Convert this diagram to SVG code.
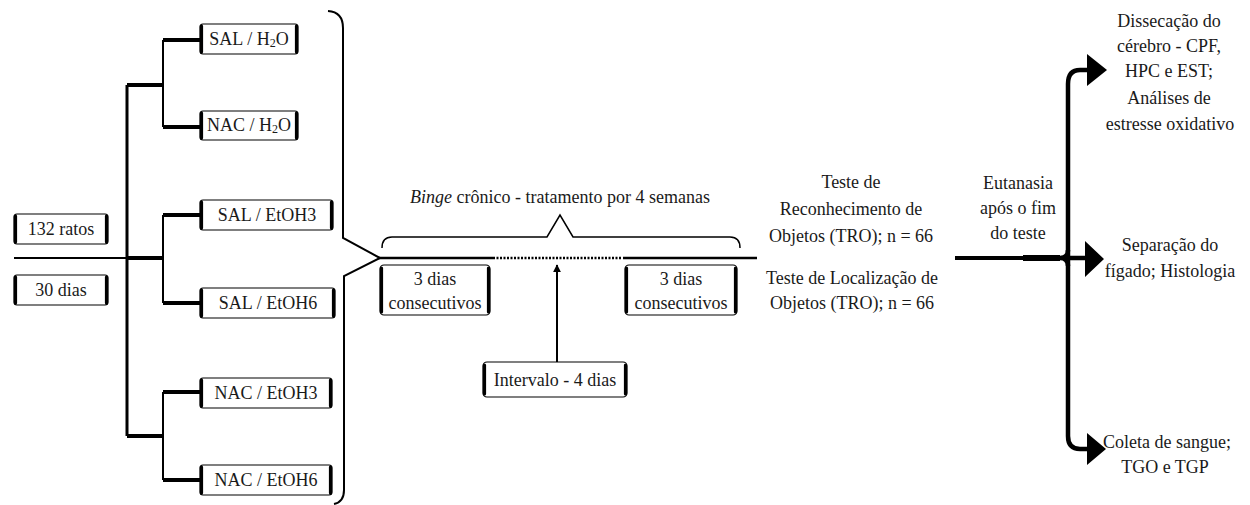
<svg xmlns="http://www.w3.org/2000/svg" width="1250" height="505" viewBox="0 0 1250 505">
<style>
text{font-family:"Liberation Serif","Times New Roman",serif;font-size:18px;fill:#1a1a1a;text-anchor:middle}
.bx{fill:#fff;stroke:#000;stroke-width:1.2}
.sd{stroke:#000;stroke-width:3.2;fill:none;stroke-linecap:round}
.ln{stroke:#000;fill:none}
.sub{font-size:12px}
</style>
<defs>
<marker id="ah" viewBox="0 0 10 10" refX="9" refY="5" markerWidth="4" markerHeight="4" orient="auto"><path d="M0,0 L10,5 L0,10 Z" fill="#000"/></marker>
</defs>
<g id="connectors">
<path class="ln" stroke-width="2" d="M14,258 H127"/>
<path class="ln" stroke-width="3" d="M127,85 V436"/>
<path class="ln" stroke-width="4" d="M127,85 H163 M127,258 H163 M127,436 H163"/>
<path class="ln" stroke-width="2" d="M163,40 V127 M163,215 V303 M163,392 V480"/>
<path class="ln" stroke-width="4" d="M163,40 H200 M163,127 H200 M163,215 H200 M163,303 H200 M163,392 H200 M163,480 H200"/>
<path class="ln" stroke-width="2" d="M328,11 Q343,12 343,28 V238 L380,258 L344,276 V490 Q344,502 334,504"/>
<path class="ln" stroke-width="2.5" d="M378,258 H493 M623,258 H757"/>
<path class="ln" stroke-width="2.5" stroke-dasharray="2,1.5" d="M493,258 H621"/>
<path class="ln" stroke-width="1.5" d="M382,248 Q382,237 392,237 H547 L560,215 L573,237 H730 Q740,237 740,248"/>
<path class="ln" stroke-width="2" marker-end="url(#ah)" d="M557,362 V265"/>
<path class="ln" stroke-width="4" d="M955,258 H1068"/>
<path class="ln" stroke-width="6" d="M1023,258 H1060"/>
<path class="ln" stroke-width="4.5" d="M1090,70 H1080 Q1068,70 1068,84 V436 Q1068,449 1080,449 H1090"/>
<path class="ln" stroke-width="4.5" d="M1060,258 Q1068,258 1068,250 M1060,258 Q1068,258 1068,266 M1068,258 H1088"/>
<path d="M1087,54 L1107,70 L1087,86 Z M1085,241 L1104,259 L1085,277 Z M1087,433 L1106,449 L1087,465 Z" fill="#000"/>
</g>
<g id="n132">
<rect class="bx" x="14" y="214" width="94" height="30" rx="3"/>
<path class="sd" d="M15.5,216 V242 M106.5,216 V242"/>
<text x="61" y="235">132 ratos</text>
</g>
<g id="n30">
<rect class="bx" x="14" y="275" width="94" height="30" rx="3"/>
<path class="sd" d="M15.5,277 V303 M106.5,277 V303"/>
<text x="61" y="296">30 dias</text>
</g>
<g id="salh2o">
<rect class="bx" x="200" y="24" width="98" height="30" rx="3"/>
<path class="sd" d="M201.5,26 V52 M296.5,26 V52"/>
<text x="249" y="45">SAL / H<tspan class="sub" dy="2">2</tspan><tspan dy="-2">O</tspan></text>
</g>
<g id="nach2o">
<rect class="bx" x="200" y="111" width="98" height="29" rx="3"/>
<path class="sd" d="M201.5,113 V138 M296.5,113 V138"/>
<text x="249" y="131">NAC / H<tspan class="sub" dy="2">2</tspan><tspan dy="-2">O</tspan></text>
</g>
<g id="saletoh3">
<rect class="bx" x="200" y="200" width="133" height="30" rx="3"/>
<path class="sd" d="M201.5,202 V228 M331.5,202 V228"/>
<text x="267" y="221">SAL / EtOH3</text>
</g>
<g id="saletoh6">
<rect class="bx" x="200" y="288" width="135" height="30" rx="3"/>
<path class="sd" d="M201.5,290 V316 M333.5,290 V316"/>
<text x="268" y="309">SAL / EtOH6</text>
</g>
<g id="nacetoh3">
<rect class="bx" x="200" y="378" width="132" height="30" rx="3"/>
<path class="sd" d="M201.5,380 V406 M330.5,380 V406"/>
<text x="266" y="399">NAC / EtOH3</text>
</g>
<g id="nacetoh6">
<rect class="bx" x="200" y="465" width="132" height="30" rx="3"/>
<path class="sd" d="M201.5,467 V493 M330.5,467 V493"/>
<text x="266" y="486">NAC / EtOH6</text>
</g>
<g id="binge">
<text x="560" y="203"><tspan font-style="italic">Binge</tspan> crônico - tratamento por 4 semanas</text>
</g>
<g id="dias1">
<rect class="bx" x="380" y="265" width="110" height="50" rx="4"/>
<path class="sd" d="M381.5,268 V312 M488.5,268 V312"/>
<text x="435" y="285">3 dias</text>
<text x="435" y="309">consecutivos</text>
</g>
<g id="dias2">
<rect class="bx" x="625" y="265" width="112" height="50" rx="4"/>
<path class="sd" d="M626.5,268 V312 M735.5,268 V312"/>
<text x="681" y="285">3 dias</text>
<text x="681" y="309">consecutivos</text>
</g>
<g id="intervalo">
<rect class="bx" x="483" y="362" width="144" height="35" rx="4"/>
<path class="sd" d="M484.5,365 V394 M625.5,365 V394"/>
<text x="555" y="386">Intervalo - 4 dias</text>
</g>
<g id="tro">
<text x="851" y="188">Teste de</text>
<text x="851" y="215">Reconhecimento de</text>
<text x="851" y="242">Objetos (TRO); n = 66</text>
</g>
<g id="tlo">
<text x="852" y="284">Teste de Localização de</text>
<text x="852" y="309">Objetos (TRO); n = 66</text>
</g>
<g id="eutanasia">
<text x="1018" y="189">Eutanasia</text>
<text x="1018" y="214">após o fim</text>
<text x="1018" y="239">do teste</text>
</g>
<g id="dissecacao">
<text x="1169" y="27">Dissecação do</text>
<text x="1169" y="52">cérebro - CPF,</text>
<text x="1169" y="77">HPC e EST;</text>
<text x="1169" y="104">Análises de</text>
<text x="1170" y="130">estresse oxidativo</text>
</g>
<g id="figado">
<text x="1170" y="251">Separação do</text>
<text x="1170" y="277">fígado; Histologia</text>
</g>
<g id="sangue">
<text x="1167" y="448">Coleta de sangue;</text>
<text x="1165" y="473">TGO e TGP</text>
</g>
</svg>
